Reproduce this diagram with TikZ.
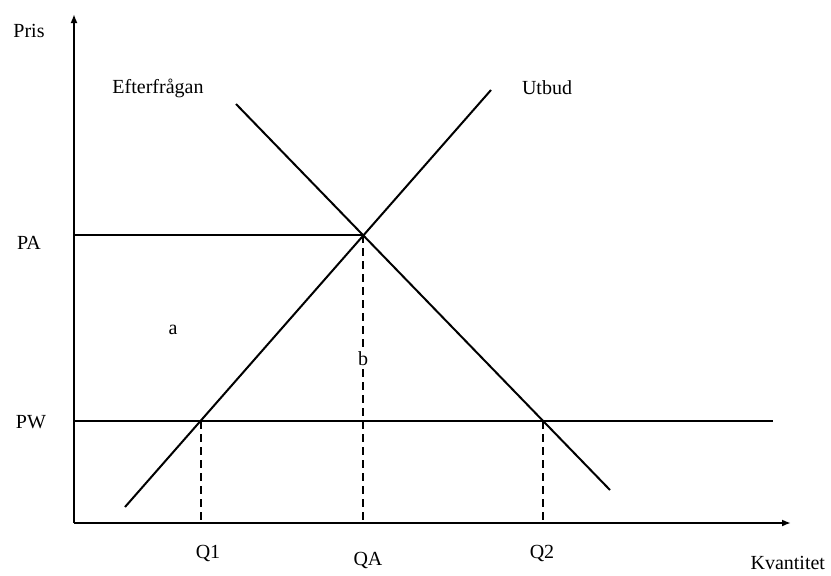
\documentclass[tikz,border=0pt]{standalone}
\usepackage{fontspec}
\setmainfont{Liberation Serif}
\usepackage{tikz}
\usetikzlibrary{arrows.meta, positioning}

\begin{document}
\begin{tikzpicture}[x=1pt, y=-1pt, line width=2pt,
        lbl/.style={font=\fontsize{20}{22}\selectfont, inner sep=0pt},
        guide/.style={dash pattern=on 8pt off 5pt}]
        \useasboundingbox (0,0) rectangle (831,576);
%
        \coordinate (O) at (74,523);
        \coordinate (ytop) at (74,14);
        \coordinate (xend) at (791,523);
        \coordinate (PA) at (74,235);
        \coordinate (PW) at (74,421);
        \coordinate (PWend) at (773,421);
        \coordinate (eq) at (363,235);
        \coordinate (S0) at (125,507);
        \coordinate (S1) at (491,90);
        \coordinate (D0) at (236,104);
        \coordinate (D1) at (610,490);
        \coordinate (w1) at (201,421);
        \coordinate (w2) at (543,421);
        \coordinate (q1) at (201,523);
        \coordinate (qa) at (363,523);
        \coordinate (q2) at (543,523);
%
        \node[lbl] (pris) at (29,31) {Pris};
        \node[lbl, anchor=east] (kvant) at (826,563) {Kvantitet};
        \node[lbl] (pa) at (29,243) {PA};
        \node[lbl] (pw) at (31,422) {PW};
        \node[lbl] (eft) at (158,88) {Efterfrågan};
        \node[lbl] (utb) at (547,88) {Utbud};
        \node[lbl] (a) at (173,330) {a};
        \node[lbl, fill=white, inner sep=2pt] (b) at (363,359) {b};
        \node[lbl] (Q1) at (208,553) {Q1};
        \node[lbl] (QA) at (368,560) {QA};
        \node[lbl] (Q2) at (542,553) {Q2};
%
        \draw[-{Latex[length=9pt,width=7pt]}] (O) -- (ytop);
        \draw[-{Latex[length=9pt,width=7pt]}] (O) -- (xend);
        \draw (PA) -- (eq);
        \draw (PW) -- (PWend);
        \draw (S0) -- (S1);
        \draw (D0) -- (D1);
        \draw[guide] (w1) -- (q1);
        \draw[guide] (w2) -- (q2);
        \draw[guide] (eq) -- (b) -- (qa);
\end{tikzpicture}
\end{document}
